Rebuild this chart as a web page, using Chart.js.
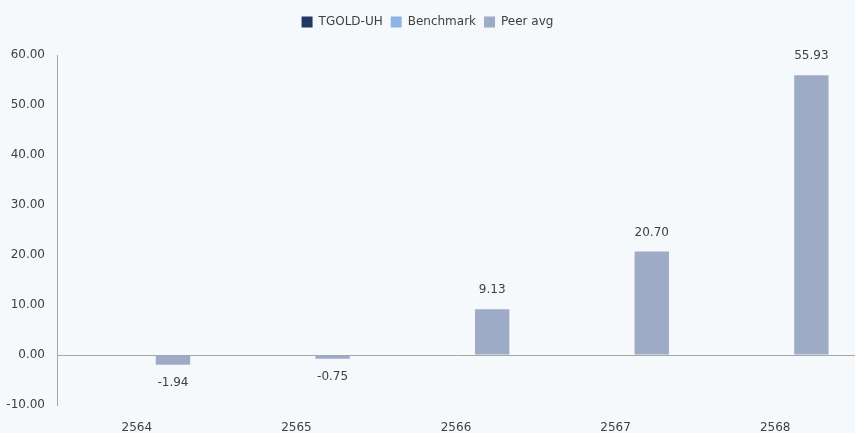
<!DOCTYPE html>
<html>
<head>
<meta charset="utf-8">
<script src="https://cdn.jsdelivr.net/npm/chart.js@4"></script>
<style>
  html, body { margin: 0; padding: 0; background: #f6f9fc; }
  #wrap { width: 855px; height: 433px; position: relative; }
</style>
</head>
<body>
<div id="wrap"><canvas id="chart"></canvas></div>
<script>
// Datos
const years     = ['2564', '2565', '2566', '2567', '2568'];
const fundVals  = [null, null, null, null, null];
const benchVals = [null, null, null, null, null];
const peerVals  = [-1.94, -0.75, 9.13, 20.70, 55.93];

const COLORS = {
  fund:  '#1f3864',
  bench: '#8eb4e3',
  peer:  '#9eabc6',
  axis:  '#a6a6a6',
  text:  '#404040',
};

const FONT = "'DejaVu Sans', Verdana, sans-serif";
Chart.defaults.font.family = FONT;
Chart.defaults.font.size = 12;
Chart.defaults.color = COLORS.text;

// Etiquetas de valor encima/debajo de cada barra
const valueLabels = {
  id: 'valueLabels',
  afterDatasetsDraw(chart) {
    const ctx = chart.ctx;
    ctx.save();
    ctx.font = '12px ' + FONT;
    ctx.fillStyle = COLORS.text;
    ctx.textAlign = 'center';
    chart.data.datasets.forEach((ds, i) => {
      const meta = chart.getDatasetMeta(i);
      meta.data.forEach((bar, j) => {
        const v = ds.data[j];
        if (v == null) return;
        if (v >= 0) {
          ctx.textBaseline = 'bottom';
          ctx.fillText(v.toFixed(2), bar.x, bar.y - 13);
        } else {
          ctx.textBaseline = 'top';
          ctx.fillText(v.toFixed(2), bar.x, bar.y + 12);
        }
      });
    });
    ctx.restore();
  }
};

// Espacio extra debajo de la leyenda
const legendGap = {
  id: 'legendGap',
  afterInit(chart) {
    const lg = chart.legend;
    const fit = lg.fit.bind(lg);
    lg.fit = function () { fit(); this.height += 17; };
  }
};

new Chart(document.getElementById('chart'), {
  type: 'bar',
  data: {
    labels: years,
    datasets: [
      { label: 'TGOLD-UH',  data: fundVals,  backgroundColor: COLORS.fund },
      { label: 'Benchmark', data: benchVals, backgroundColor: COLORS.bench },
      { label: 'Peer avg',  data: peerVals,  backgroundColor: COLORS.peer },
    ],
  },
  options: {
    responsive: true,
    maintainAspectRatio: false,
    animation: false,
    datasets: { bar: { categoryPercentage: 0.68, barPercentage: 0.95 } },
    layout: { padding: { top: 8, right: 0, left: 0, bottom: 0 } },
    plugins: {
      legend: {
        position: 'top',
        labels: {
          boxWidth: 11,
          boxHeight: 11,
          padding: 8,
          color: COLORS.text,
          font: { size: 12 },
        },
      },
      tooltip: { enabled: false },
    },
    scales: {
      x: {
        grid: { display: false },
        border: { display: false },
        ticks: { padding: 8, color: COLORS.text },
        afterFit: (s) => { s.height = 28; },
      },
      y: {
        min: -10,
        max: 60,
        ticks: {
          stepSize: 10,
          padding: 12,
          color: COLORS.text,
          callback: (v) => v.toFixed(2),
        },
        grid: {
          drawTicks: false,
          color: (c) => (c.tick && c.tick.value === 0 ? COLORS.axis : 'rgba(0,0,0,0)'),
        },
        border: { display: true, color: COLORS.axis },
        afterFit: (s) => { s.width = 57; },
      },
    },
  },
  plugins: [valueLabels, legendGap],
});
</script>
</body>
</html>
